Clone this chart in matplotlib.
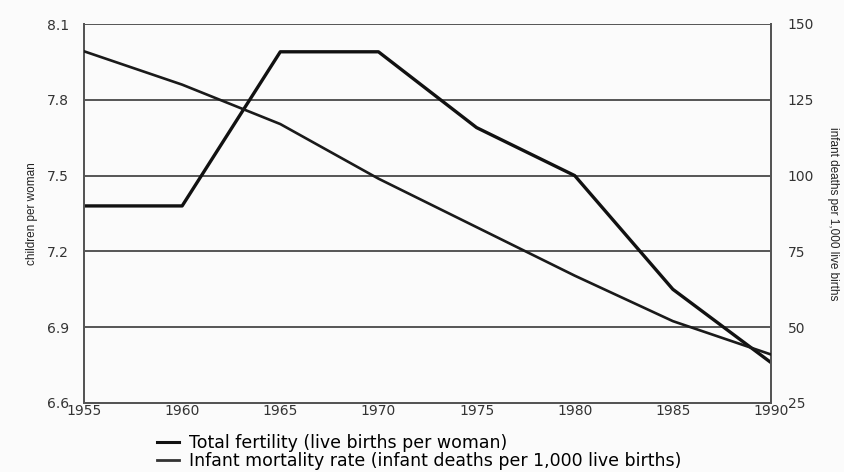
import matplotlib
matplotlib.use("Agg")
import matplotlib.pyplot as plt
from matplotlib.lines import Line2D
from matplotlib.font_manager import FontProperties

plt.rcParams["font.family"] = ["DejaVu Sans"]

years = [1955, 1960, 1965, 1970, 1975, 1980, 1985, 1990]
fertility = [7.38, 7.38, 7.99, 7.99, 7.69, 7.50, 7.05, 6.76]
infant_mortality = [141, 130, 117, 99, 83, 67, 52, 41]
left_ticks = [6.6, 6.9, 7.2, 7.5, 7.8, 8.1]
right_ticks = [25, 50, 75, 100, 125, 150]
x_ticks = [1955, 1960, 1965, 1970, 1975, 1980, 1985, 1990]

label_font = ["Liberation Sans Narrow", "Liberation Sans", "DejaVu Sans"]

fig = plt.figure(figsize=(8.44, 4.72), dpi=100, facecolor="#fbfbfb")
ax = fig.add_axes([84/844, 1-403/472, (771-84)/844, (403-24)/472])
ax.set_facecolor("#fbfbfb")
ax2 = ax.twinx()

ax.set_xlim(1955, 1990)
ax.set_ylim(6.6, 8.1)
ax2.set_ylim(25, 150)

for t in left_ticks:
    ax.axhline(t, color="#555555", lw=1.4, zorder=1)

ax.plot(years, fertility, color="#111111", lw=2.4, zorder=3)
ax2.plot(years, infant_mortality, color="#1a1a1a", lw=1.9, zorder=3)

ax.set_xticks(x_ticks)
ax.set_yticks(left_ticks)
ax.set_yticklabels([f"{v:.1f}" for v in left_ticks])
ax2.set_yticks(right_ticks)
ax.tick_params(axis="both", length=0, labelsize=10, colors="#333333")
ax.tick_params(axis="y", pad=11)
ax.tick_params(axis="x", pad=1)
ax2.tick_params(axis="y", length=0, labelsize=10, colors="#333333", pad=12)

for a in (ax, ax2):
    for s in a.spines.values():
        s.set_color("#555555")
        s.set_linewidth(1.4)
    a.spines["top"].set_visible(False)

ax.set_ylabel("children per woman", family=label_font, fontsize=8.5, color="#222222", labelpad=6)
ax2.set_ylabel("infant deaths per 1,000 live births", family=label_font, fontsize=8.5,
               color="#222222", rotation=270, labelpad=18)

handles = [Line2D([], [], color="#111111", lw=2.2),
           Line2D([], [], color="#333333", lw=2.0)]
labels = ["Total fertility (live births per woman)",
          "Infant mortality rate (infant deaths per 1,000 live births)"]
fig.legend(handles, labels, loc="upper left", bbox_to_anchor=(157/844, 1-434/472),
           frameon=False, prop=FontProperties(family="DejaVu Sans", size=12.5), handlelength=1.25,
           handletextpad=0.6, labelspacing=0.0, borderpad=0, borderaxespad=0)

fig.savefig("out.png", dpi=100, facecolor=fig.get_facecolor())
